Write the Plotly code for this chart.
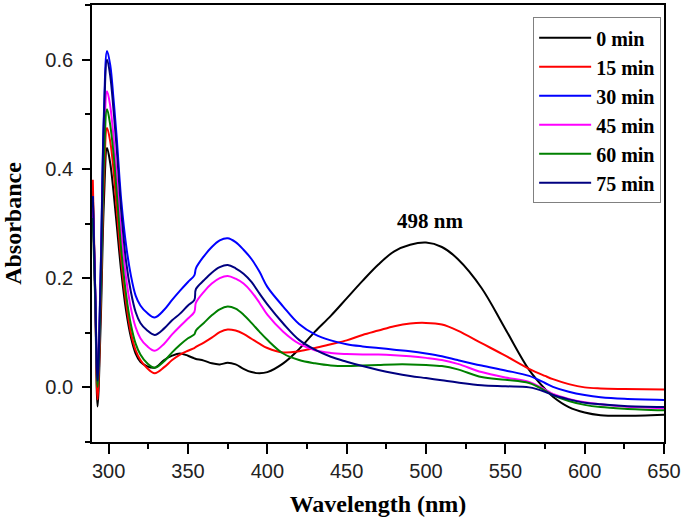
import plotly.graph_objects as go

wavelength = [290, 291.5, 293, 295, 297, 299, 301, 303, 305, 308, 311, 314, 317, 320, 324, 329,
              335, 340, 345, 350, 354, 355, 360, 365, 370, 375, 380, 385, 390, 395, 400,
              410, 420, 430, 440, 450, 460, 470, 480, 490, 500,
              510, 520, 535, 550, 565, 575, 580, 590, 600, 610, 625, 650]

abs_0 = [0.36, 0.17, -0.035, 0.12, 0.34, 0.438,
         0.41, 0.36, 0.30, 0.21, 0.14, 0.092, 0.062, 0.047, 0.039, 0.036,
         0.050, 0.058, 0.062, 0.058, 0.053, 0.052,
         0.049, 0.044, 0.042, 0.045, 0.042, 0.034, 0.028, 0.026, 0.028,
         0.044, 0.070, 0.102, 0.131, 0.163, 0.195, 0.225, 0.249, 0.261, 0.265,
         0.257, 0.235, 0.182, 0.107, 0.032, -0.003, -0.017, -0.036, -0.046, -0.051, -0.052, -0.050]

abs_15 = [0.38, 0.18, -0.022, 0.15, 0.38, 0.475,
          0.45, 0.40, 0.33, 0.23, 0.155, 0.10, 0.068, 0.050, 0.036, 0.026,
          0.037, 0.050, 0.060, 0.067, 0.072, 0.074,
          0.082, 0.091, 0.101, 0.106, 0.104, 0.098, 0.089, 0.080, 0.072,
          0.064, 0.066, 0.072, 0.079, 0.086, 0.096, 0.104, 0.112, 0.117, 0.118,
          0.115, 0.104, 0.081, 0.058, 0.034, 0.021, 0.015, 0.006, 0.000, -0.002, -0.003, -0.004]

abs_30 = [0.35, 0.18, 0.015, 0.22, 0.50, 0.616,
          0.59, 0.53, 0.46, 0.34, 0.26, 0.205, 0.168, 0.150, 0.137, 0.128,
          0.142, 0.160, 0.177, 0.193, 0.205, 0.218,
          0.240, 0.257, 0.269, 0.273, 0.266, 0.252, 0.235, 0.212, 0.184,
          0.148, 0.116, 0.097, 0.086, 0.079, 0.075, 0.072, 0.069, 0.066, 0.062,
          0.057, 0.050, 0.040, 0.031, 0.021, 0.008, 0.001, -0.008, -0.014, -0.018, -0.021, -0.023]

abs_45 = [0.33, 0.17, 0.008, 0.19, 0.44, 0.542,
          0.515, 0.46, 0.39, 0.28, 0.20, 0.145, 0.110, 0.090, 0.076, 0.067,
          0.080, 0.097, 0.112, 0.126, 0.138, 0.155,
          0.175, 0.190, 0.200, 0.204, 0.199, 0.190, 0.175, 0.155, 0.133,
          0.102, 0.080, 0.068, 0.063, 0.061, 0.060, 0.060, 0.059, 0.057, 0.054,
          0.050, 0.043, 0.028, 0.018, 0.010, -0.004, -0.012, -0.021, -0.027, -0.031, -0.035, -0.038]

abs_60 = [0.31, 0.16, 0.001, 0.17, 0.41, 0.509,
          0.48, 0.43, 0.36, 0.25, 0.17, 0.115, 0.080, 0.060, 0.045, 0.036,
          0.048, 0.064, 0.078, 0.090, 0.097, 0.104,
          0.118, 0.132, 0.143, 0.148, 0.144, 0.133, 0.118, 0.102, 0.087,
          0.062, 0.050, 0.044, 0.040, 0.039, 0.040, 0.041, 0.042, 0.042, 0.041,
          0.039, 0.033, 0.019, 0.014, 0.008, -0.006, -0.014, -0.025, -0.032, -0.036, -0.039, -0.042]

abs_75 = [0.35, 0.18, 0.012, 0.21, 0.49, 0.600,
          0.57, 0.51, 0.44, 0.32, 0.23, 0.175, 0.138, 0.118, 0.105, 0.096,
          0.108, 0.123, 0.135, 0.150, 0.160, 0.180,
          0.196, 0.210, 0.220, 0.224, 0.218, 0.208, 0.193, 0.172, 0.152,
          0.117, 0.087, 0.069, 0.056, 0.047, 0.039, 0.032, 0.026, 0.021, 0.017,
          0.013, 0.009, 0.004, 0.002, 0.000, -0.008, -0.014, -0.022, -0.028, -0.031, -0.034, -0.036]

series_names = ["0 min", "15 min", "30 min", "45 min", "60 min", "75 min"]
series_values = [abs_0, abs_15, abs_30, abs_45, abs_60, abs_75]
series_colors = ["#000000", "#ff0000", "#0000ff", "#ff00ff", "#008000", "#000080"]

x_ticks = [300, 350, 400, 450, 500, 550, 600, 650]
y_ticks = [0.0, 0.2, 0.4, 0.6]
peak_label = "498 nm"
peak_pos = (502.5, 0.305)

serif = "Liberation Serif"
sans = "Liberation Sans"

fig = go.Figure()
for name, vals, col in zip(series_names, series_values, series_colors):
    fig.add_trace(go.Scatter(x=wavelength, y=vals, name=name, mode="lines",
                             line=dict(color=col, width=2, shape="spline", smoothing=1.0)))

fig.add_annotation(x=peak_pos[0], y=peak_pos[1], xref="x", yref="y", text=peak_label,
                   showarrow=False, font=dict(family=serif, size=21, color="black", weight="bold"))

fig.update_layout(
    width=685, height=525,
    margin=dict(l=92, r=21, t=5, b=83, autoexpand=False),
    paper_bgcolor="white", plot_bgcolor="white",
    showlegend=True,
    legend=dict(x=0.995, xanchor="right", y=0.972, yanchor="top",
                bordercolor="#808080", borderwidth=1, bgcolor="white",
                font=dict(family=serif, size=20, color="black", weight="bold"),
                itemwidth=52),
)
fig.update_xaxes(range=[289.5, 650], tickvals=x_ticks, ticks="outside", ticklen=10, tickwidth=1.5,
                 tickcolor="black", showline=True, linecolor="black", linewidth=1.8, mirror=True,
                 showgrid=False, zeroline=False, automargin=False,
                 minor=dict(dtick=25, tick0=275, ticks="outside", ticklen=5, tickwidth=1.5, tickcolor="black"),
                 tickfont=dict(family=sans, size=20, color="#222"),
                 title=dict(text="Wavelength (nm)", standoff=14,
                            font=dict(family=serif, size=24, color="black", weight="bold")))
fig.update_yaxes(range=[-0.1, 0.7], tickvals=y_ticks, tickformat=".1f", ticks="outside", ticklen=8,
                 tickwidth=1.5, tickcolor="black", showline=True, linecolor="black", linewidth=1.8,
                 mirror=True, showgrid=False, zeroline=False, automargin=False,
                 minor=dict(dtick=0.1, tick0=-0.1, ticks="outside", ticklen=5, tickwidth=1.5, tickcolor="black"),
                 tickfont=dict(family=sans, size=20, color="#222"), ticklabelstandoff=5,
                 title=dict(text="Absorbance", standoff=22,
                            font=dict(family=serif, size=24, color="black", weight="bold")))

fig.write_html("out.html", config={"displayModeBar": False},
               post_script="document.body.style.margin='0px';")
